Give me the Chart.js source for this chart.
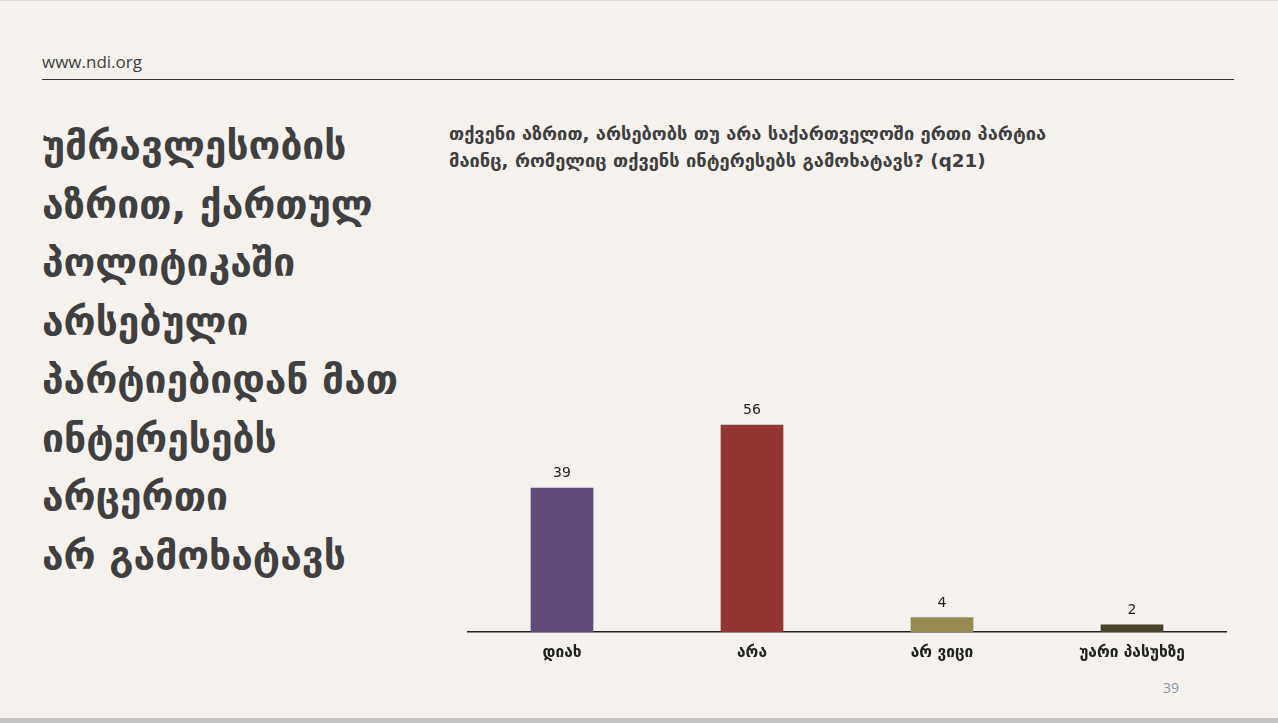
<!DOCTYPE html>
<html>
<head>
<meta charset="utf-8">
<script src="https://cdn.jsdelivr.net/npm/chart.js@4.4.1/dist/chart.umd.min.js"></script>
<style>
  html,body{margin:0;padding:0;}
  body{width:1278px;height:723px;background:#f5f2ee;position:relative;overflow:hidden;font-family:"Open Sans","DejaVu Sans",sans-serif;}
  .site{position:absolute;left:42px;top:50px;font-size:17px;color:#404040;}
  .rule{position:absolute;left:42px;top:79px;width:1192px;height:1px;background:#333;}
  .big{position:absolute;left:42px;top:117px;font-family:"DejaVu Sans",sans-serif;font-weight:bold;font-size:39px;line-height:58.5px;color:#3f3f3f;white-space:nowrap;}
  .ctitle{position:absolute;left:449px;top:120px;font-family:"DejaVu Sans",sans-serif;font-weight:bold;font-size:18.3px;line-height:27px;color:#3f3f3f;white-space:nowrap;}
  .box{position:absolute;left:467px;top:300px;width:760px;height:372px;}
  .page{position:absolute;left:1163px;top:678px;font-size:14px;color:#8b97a5;}
  .foot{position:absolute;left:0;top:718px;width:1278px;height:5px;background:#c4c4c4;}
  .topline{position:absolute;left:0;top:0;width:1278px;height:1px;background:#dcdcdc;}
</style>
</head>
<body>
<div class="topline"></div>
<div class="site">www.ndi.org</div>
<div class="rule"></div>
<div class="big">უმრავლესობის<br>აზრით, ქართულ<br>პოლიტიკაში<br>არსებული<br>პარტიებიდან მათ<br>ინტერესებს<br>არცერთი<br>არ გამოხატავს</div>
<div class="ctitle">თქვენი აზრით, არსებობს თუ არა საქართველოში ერთი პარტია<br>მაინც, რომელიც თქვენს ინტერესებს გამოხატავს? (q21)</div>
<div class="box"><canvas id="myChart"></canvas></div>
<div class="page">39</div>
<div class="foot"></div>
<script>
const categories=['დიახ','არა','არ ვიცი','უარი პასუხზე'];
const values=[39,56,4,2];
const barColors=['#5f4a7b','#933535','#968b50','#46432a'];

// ********value labels above bars********
const valueLabels={
  id:'valueLabels',
  afterDatasetsDraw(chart){
    const {ctx}=chart;
    const meta=chart.getDatasetMeta(0);
    ctx.save();
    ctx.font='14px "DejaVu Sans", sans-serif';
    ctx.fillStyle='#222';
    ctx.textAlign='center';
    ctx.textBaseline='bottom';
    meta.data.forEach((bar,i)=>{
      ctx.fillText(values[i],bar.x,bar.y-7);
    });
    ctx.restore();
  }
};

const ctx=document.getElementById('myChart');
new Chart(ctx,{
  type:'bar',
  data:{
    labels:categories,
    datasets:[{
      data:values,
      backgroundColor:barColors,
      barPercentage:0.66,
      categoryPercentage:0.5
    }]
  },
  options:{
    responsive:true,
    maintainAspectRatio:false,
    animation:false,
    layout:{padding:{top:36,left:0,right:0,bottom:0}},
    plugins:{legend:{display:false},tooltip:{enabled:false},title:{display:false}},
    scales:{
      x:{
        grid:{display:false},
        border:{display:true,color:'#222',width:1.5},
        ticks:{color:'#222',padding:4,font:{family:'"DejaVu Sans", sans-serif',weight:'bold',size:15.5}},
        afterFit(scale){scale.height=40;}
      },
      y:{display:false,min:0,max:80}
    }
  },
  plugins:[valueLabels]
});
</script>
</body>
</html>
